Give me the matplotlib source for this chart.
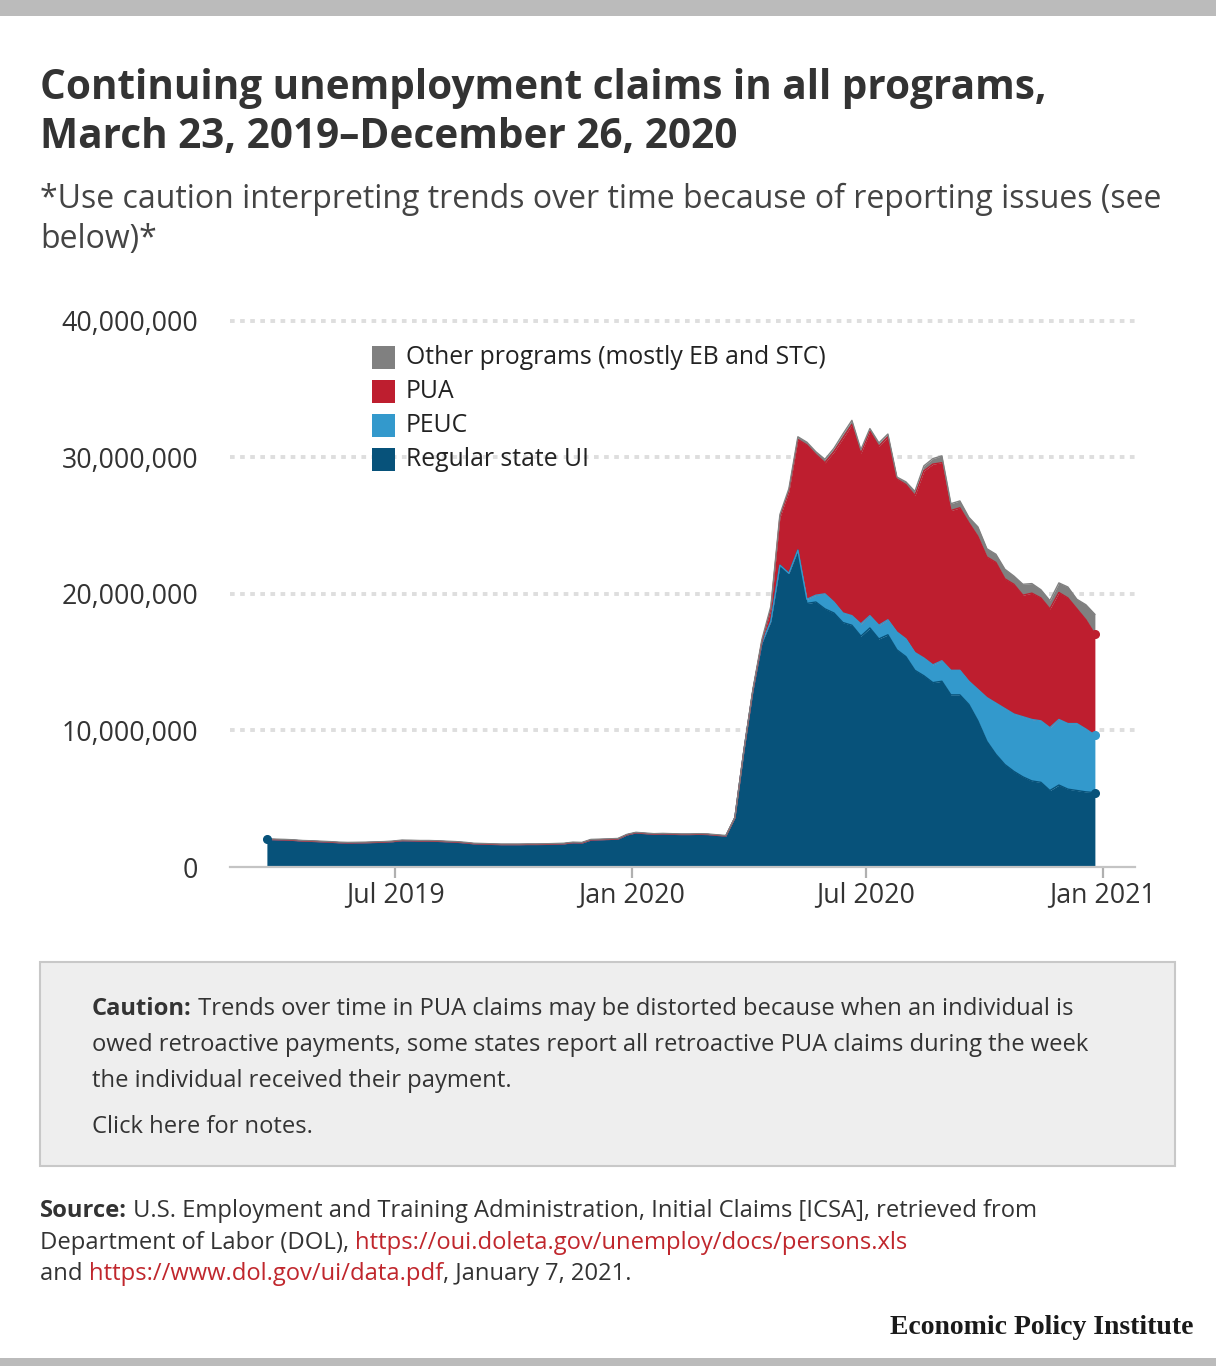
import matplotlib
matplotlib.use("Agg")
import matplotlib.pyplot as plt
from matplotlib.patches import Rectangle
import numpy as np
import pandas as pd

# ---------------- data (millions of continuing claims, weekly) ----------------
week_start = "2019-03-23"
week_end = "2020-12-26"

regular_ui = [
    # 2019
    2.02, 2.00, 1.98, 1.95, 1.90, 1.88, 1.85, 1.82, 1.78, 1.76,
    1.77, 1.78, 1.80, 1.82, 1.86, 1.93, 1.92, 1.90, 1.90, 1.88,
    1.85, 1.82, 1.77, 1.70, 1.68, 1.66, 1.64, 1.64, 1.64, 1.65,
    1.65, 1.66, 1.68, 1.70, 1.78, 1.76, 1.98, 2.00, 2.02, 2.05, 2.35,
    # 2020 Jan 4 - Mar 7
    2.50, 2.45, 2.40, 2.42, 2.40, 2.38, 2.38, 2.40, 2.38, 2.32,
    # 2020 Mar 14 - Dec 26
    2.27, 3.60, 8.50, 12.9, 16.4, 18.0, 22.1, 21.5, 23.2, 19.3,
    19.4, 18.9, 18.6, 17.9, 17.7, 16.9, 17.5, 16.7, 17.0, 15.9,
    15.4, 14.4, 14.0, 13.5, 13.6, 12.6, 12.6, 11.9, 10.7, 9.20,
    8.25, 7.50, 7.00, 6.60, 6.30, 6.20, 5.60, 6.00, 5.70, 5.60, 5.50, 5.45,
]

peuc = [
    0, 0, 0, 0, 0, 0, 0, 0, 0, 0,
    0, 0, 0, 0, 0, 0, 0, 0, 0, 0,
    0, 0, 0, 0, 0, 0, 0, 0, 0, 0,
    0, 0, 0, 0, 0, 0, 0, 0, 0, 0, 0,
    0, 0, 0, 0, 0, 0, 0, 0, 0, 0,
    0, 0, 0, 0, 0, 0, 0, 0, 0, 0.30,
    0.50, 1.10, 0.80, 0.70, 0.70, 0.90, 0.90, 1.00, 1.10, 1.30,
    1.30, 1.30, 1.30, 1.30, 1.50, 1.80, 1.80, 1.70, 2.30, 3.20,
    3.75, 4.10, 4.20, 4.40, 4.50, 4.50, 4.60, 4.80, 4.80, 4.90, 4.60, 4.20,
]

pua = [
    0, 0, 0, 0, 0, 0, 0, 0, 0, 0,
    0, 0, 0, 0, 0, 0, 0, 0, 0, 0,
    0, 0, 0, 0, 0, 0, 0, 0, 0, 0,
    0, 0, 0, 0, 0, 0, 0, 0, 0, 0, 0,
    0, 0, 0, 0, 0, 0, 0, 0, 0, 0,
    0, 0, 0, 0, 0.10, 0.90, 3.50, 6.00, 8.10, 11.3,
    10.3, 9.60, 11.0, 12.8, 14.0, 12.5, 13.5, 13.1, 13.4, 11.2,
    11.3, 11.5, 13.7, 14.7, 14.5, 11.7, 11.9, 11.6, 11.2, 10.3,
    10.3, 9.50, 9.50, 8.90, 9.25, 9.00, 8.70, 9.30, 9.20, 8.40, 8.00, 7.40,
]

other = [
    0.04, 0.04, 0.04, 0.04, 0.04, 0.04, 0.04, 0.04, 0.04, 0.04,
    0.04, 0.04, 0.04, 0.04, 0.04, 0.04, 0.04, 0.04, 0.04, 0.04,
    0.04, 0.04, 0.04, 0.04, 0.04, 0.04, 0.04, 0.04, 0.04, 0.04,
    0.04, 0.04, 0.04, 0.04, 0.04, 0.04, 0.04, 0.04, 0.04, 0.04, 0.04,
    0.04, 0.04, 0.04, 0.04, 0.04, 0.04, 0.04, 0.04, 0.04, 0.04,
    0.04, 0.04, 0.04, 0.10, 0.15, 0.20, 0.20, 0.20, 0.20, 0.20,
    0.20, 0.25, 0.25, 0.30, 0.30, 0.25, 0.20, 0.25, 0.20, 0.15,
    0.20, 0.30, 0.37, 0.40, 0.50, 0.50, 0.50, 0.40, 0.70, 0.60,
    0.60, 0.70, 0.60, 0.80, 0.70, 0.60, 0.60, 0.70, 0.80, 0.70, 1.10, 1.45,
]

series_names = ["Regular state UI", "PEUC", "PUA", "Other programs (mostly EB and STC)"]
series_colors = ["#07527a", "#3399cc", "#be1e2f", "#808080"]

y_ticks = [0, 10_000_000, 20_000_000, 30_000_000, 40_000_000]
x_tick_dates = ["2019-07-01", "2020-01-01", "2020-07-01", "2021-01-01"]
x_tick_labels = ["Jul 2019", "Jan 2020", "Jul 2020", "Jan 2021"]

title_lines = ["Continuing unemployment claims in all programs,",
               "March 23, 2019\u2013December 26, 2020"]
subtitle_lines = ["*Use caution interpreting trends over time because of reporting issues (see",
                  "below)*"]

# ---------------- figure ----------------
W, H = 1216, 1366
fig = plt.figure(figsize=(W / 100, H / 100), dpi=100)
fig.patch.set_facecolor("white")
FONT = "Open Sans"

dates = pd.date_range(week_start, week_end, freq="7D")
scale = 1e6
layers = [np.array(s) * scale for s in (regular_ui, peuc, pua, other)]
cum = np.cumsum(np.vstack(layers), axis=0)

ax = fig.add_axes([230 / W, (H - 867) / H, 905 / W, (867 - 307) / H])
ax.set_facecolor("none")
base = np.zeros(len(dates))
for i, (top, col) in enumerate(zip(cum, series_colors)):
    ax.fill_between(dates, base, top, color=col, lw=0, zorder=2 + i * 0.01)
    base = top
for i, (top, col) in enumerate(zip(cum, series_colors)):
    ax.plot(dates, top, color=col, lw=1.0, zorder=3 + i * 0.01, solid_joinstyle="round")
# end / start markers
for i in range(3):
    ax.plot(dates[-1], cum[i][-1], "o", color=series_colors[i], ms=5.5, zorder=5)
ax.plot(dates[0], cum[0][0], "o", color=series_colors[0], ms=5.5, zorder=5)

jan2020 = pd.Timestamp("2020-01-01")
ax.set_xlim(jan2020 - pd.Timedelta(days=312.7), jan2020 + pd.Timedelta(days=391.2))
ax.set_ylim(0, 41_000_000)

ax.set_yticks(y_ticks)
ax.set_yticklabels([f"{v:,}" for v in y_ticks])
ax.set_xticks(pd.to_datetime(x_tick_dates))
ax.set_xticklabels(x_tick_labels)
for lab in ax.get_yticklabels() + ax.get_xticklabels():
    lab.set_fontfamily(FONT)
    lab.set_fontsize(19.3)
    lab.set_color("#333333")
ax.tick_params(axis="y", length=0, pad=23)
ax.tick_params(axis="x", length=8, width=1.6, color="#b0b0b0", pad=2, direction="out")

for s in ["top", "right", "left"]:
    ax.spines[s].set_visible(False)
ax.spines["bottom"].set_color("#c4c4c4")
ax.spines["bottom"].set_linewidth(1.6)
ax.spines["bottom"].set_zorder(6)

for v in y_ticks[1:]:
    ax.axhline(v, color="#dedede", lw=2.8, linestyle=(0, (1.2, 1.4)), zorder=1)

# ---------------- overlay for text/patches in pixel coords ----------------
ov = fig.add_axes([0, 0, 1, 1], zorder=10)
ov.set_xlim(0, W)
ov.set_ylim(H, 0)
ov.axis("off")
ov.patch.set_alpha(0)

ov.add_patch(Rectangle((0, 0), W, 16, color="#bbbbbb", lw=0))
ov.add_patch(Rectangle((0, 1358), W, 8, color="#bbbbbb", lw=0))

ov.text(40, 99, title_lines[0], fontsize=29.2, fontweight="bold", family=FONT,
        color="#333333", va="baseline")
ov.text(40, 148, title_lines[1], fontsize=29.2, fontweight="bold", family=FONT,
        color="#333333", va="baseline")
ov.text(40, 208, subtitle_lines[0], fontsize=23, family=FONT, color="#444444", va="baseline")
ov.text(40, 248, subtitle_lines[1], fontsize=23, family=FONT, color="#444444", va="baseline")

# legend
leg_rows = [357, 391, 425, 459]
for row, name, col in zip(leg_rows, series_names[::-1], series_colors[::-1]):
    ov.add_patch(Rectangle((372, row - 11.5), 23, 23, color=col, lw=0))
    ov.text(406, row, name, fontsize=17.8, family=FONT, color="#222222", va="center")

# caution box
ov.add_patch(Rectangle((40, 962), 1135, 204, facecolor="#eeeeee", edgecolor="#c8c8c8", lw=1.5))

renderer = fig.canvas.get_renderer()


def rich(x, y, segments, size):
    for txt, weight, color in segments:
        t = ov.text(x, y, txt, fontsize=size, fontweight=weight, color=color,
                    family=FONT, va="baseline", ha="left")
        bb = t.get_window_extent(renderer=renderer)
        x += bb.width


dark = "#333333"
red = "#c0272d"
rich(92, 1015, [("Caution:", "bold", dark),
                (" Trends over time in PUA claims may be distorted because when an individual is", "normal", dark)], 17.1)
rich(92, 1051, [("owed retroactive payments, some states report all retroactive PUA claims during the week", "normal", dark)], 17.1)
rich(92, 1087, [("the individual received their payment.", "normal", dark)], 17.1)
rich(92, 1133, [("Click here for notes.", "normal", dark)], 17.1)

rich(40, 1217, [("Source:", "bold", dark),
                (" U.S. Employment and Training Administration, Initial Claims [ICSA], retrieved from", "normal", dark)], 17.1)
rich(40, 1249, [("Department of Labor (DOL), ", "normal", dark),
                ("https://oui.doleta.gov/unemploy/docs/persons.xls", "normal", red)], 17.1)
rich(40, 1280, [("and ", "normal", dark),
                ("https://www.dol.gov/ui/data.pdf", "normal", red),
                (", January 7, 2021.", "normal", dark)], 17.1)

ov.text(1193, 1334, "Economic Policy Institute", fontsize=20, fontweight="bold",
        family="Liberation Serif", color="#1a1a1a", ha="right", va="baseline")

fig.savefig("out.png", dpi=100, facecolor="white")
